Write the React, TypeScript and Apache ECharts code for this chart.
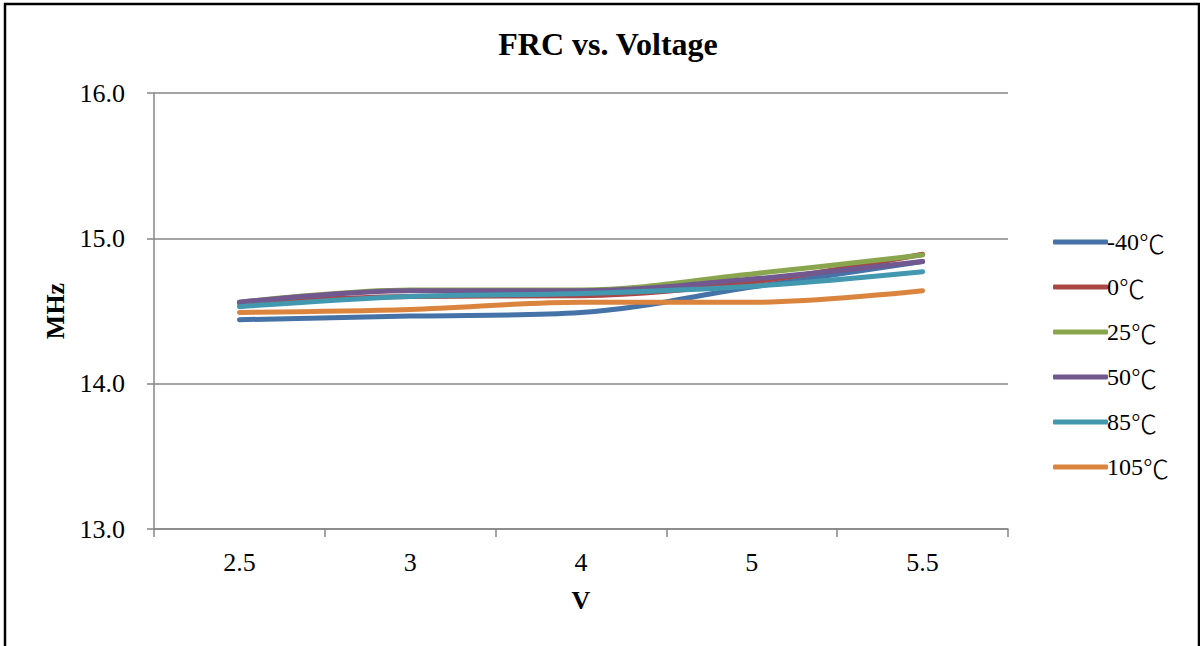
import React, { useEffect, useRef } from "react";
import * as echarts from "echarts";

const categories = ["2.5", "3", "4", "5", "5.5"];
const seriesNames = ["-40℃", "0℃", "25℃", "50℃", "85℃", "105℃"];
const m40 = [14.44, 14.465, 14.49, 14.665, 14.84];
const c0 = [14.555, 14.6, 14.605, 14.7, 14.89];
const c25 = [14.56, 14.645, 14.645, 14.755, 14.885];
const c50 = [14.56, 14.64, 14.64, 14.72, 14.84];
const c85 = [14.53, 14.6, 14.62, 14.67, 14.77];
const c105 = [14.49, 14.51, 14.56, 14.56, 14.64];
const yTicks = [13, 14, 15, 16];

const colors = ["#4572A7", "#AA4643", "#89A54E", "#71588F", "#4198AF", "#DB843D"];
const allData = [m40, c0, c25, c50, c85, c105];

export default function App() {
  const ref = useRef<HTMLDivElement>(null);
  useEffect(() => {
    if (!ref.current) return;
    const chart = echarts.init(ref.current, null, { renderer: "svg" });
    const font = "Liberation Serif";
    chart.setOption({
      animation: false,
      backgroundColor: "#fff",
      textStyle: { fontFamily: font },
      title: {
        text: "FRC vs. Voltage",
        left: 603,
        top: 23,
        textAlign: "center",
        textStyle: { fontFamily: font, fontSize: 32, fontWeight: "bold", color: "#000" },
      },
      graphic: [
        {
          type: "rect",
          shape: { x: 5, y: 4, width: 1194, height: 660 },
          style: { fill: "none", stroke: "#000", lineWidth: 2.5 },
          silent: true,
        },
      ],
      legend: {
        orient: "vertical",
        left: 1048,
        top: 224,
        itemWidth: 55,
        itemHeight: 5,
        itemGap: 19,
        icon: "roundRect",
        data: seriesNames,
        formatter: (name: string) => {
          const num = name.replace("℃", "");
          return "{a|" + num + "}{b|℃}";
        },
        textStyle: {
          fontFamily: font,
          fontSize: 24,
          color: "#000",
          padding: [0, 0, 0, -6],
          rich: {
            a: { fontFamily: font, fontSize: 24, color: "#000" },
            b: { fontFamily: "Noto Sans CJK SC", fontSize: 26, color: "#000", fontWeight: 300 },
          },
        },
      },
      grid: { left: 154, top: 93, width: 854, height: 436, containLabel: false },
      xAxis: {
        type: "category",
        data: categories,
        boundaryGap: true,
        name: "V",
        nameLocation: "middle",
        nameGap: 58,
        nameTextStyle: { fontFamily: font, fontSize: 26, fontWeight: "bold", color: "#000" },
        axisLine: { lineStyle: { color: "#868686", width: 1.5 } },
        axisTick: { show: true, length: 8, inside: false, lineStyle: { color: "#868686", width: 1.5 } },
        axisLabel: { fontFamily: font, fontSize: 26, color: "#000", margin: 20 },
      },
      yAxis: {
        type: "value",
        min: yTicks[0],
        max: yTicks[yTicks.length - 1],
        interval: 1,
        name: "MHz",
        nameLocation: "middle",
        nameGap: 84,
        nameRotate: 90,
        nameTextStyle: { fontFamily: font, fontSize: 26, fontWeight: "bold", color: "#000" },
        axisLine: { show: true, lineStyle: { color: "#868686", width: 1.5 } },
        axisTick: { show: true, length: 7, lineStyle: { color: "#868686", width: 1.5 } },
        splitLine: { show: true, lineStyle: { color: "#868686", width: 1.5 } },
        axisLabel: {
          fontFamily: font,
          fontSize: 26,
          color: "#000",
          margin: 29,
          formatter: (v: number) => v.toFixed(1),
        },
      },
      series: seriesNames.map((n, i) => ({
        name: n,
        type: "line",
        data: allData[i],
        smooth: 0.35,
        showSymbol: false,
        symbol: "none",
        color: colors[i],
        lineStyle: { width: 5, color: colors[i], cap: "round" },
      })),
    });
    return () => chart.dispose();
  }, []);
  return (
    <div
      ref={ref}
      style={{ position: "fixed", left: 0, top: 0, width: 1200, height: 646 }}
    />
  );
}
